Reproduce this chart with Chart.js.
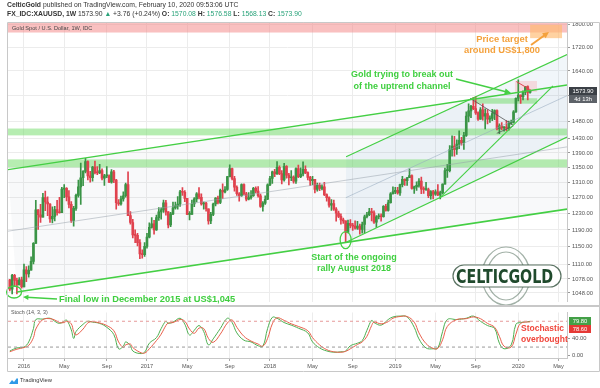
<!DOCTYPE html>
<html>
<head>
<meta charset="utf-8">
<script src="https://cdn.jsdelivr.net/npm/chart.js@4.4.1/dist/chart.umd.min.js"></script>
<style>
  html, body { margin: 0; padding: 0; background: #fff; }
  #wrap { position: relative; width: 600px; height: 388px; overflow: hidden;
          font-family: "Liberation Sans", Arial, sans-serif; color: #333; }
  #wrap canvas { position: absolute; left: 0; }
  .txt { position: absolute; white-space: nowrap; line-height: 1; }
  .ann { position: absolute; white-space: nowrap; font-weight: bold; }
  .v { color: #2aa37a; }
</style>
</head>
<body>
<div id="wrap">
  <canvas id="priceChart" width="600" height="307" style="top:0"></canvas>
  <canvas id="stochChart" width="600" height="81" style="top:307px"></canvas>

  <div class="txt" style="left:7px;top:2px;font-size:6.8px"><b>CelticGold</b> published on TradingView.com, February 10, 2020 09:53:06 UTC</div>
  <div class="txt" style="left:7px;top:11px;font-size:6.8px"><b>FX_IDC:XAUUSD, 1W</b> 1573.90 <span style="color:#2aa37a">&#9650;</span> +3.76 (+0.24%) <b>O:</b> <span class="v">1570.08</span> <b>H:</b> <span class="v">1576.58</span> <b>L:</b> <span class="v">1568.13</span> <b>C:</b> <span class="v">1573.90</span></div>
  <div class="txt" style="left:12px;top:26px;font-size:5.6px;color:#444">Gold Spot / U.S. Dollar, 1W, IDC</div>

  <div class="ann" style="left:502px;top:33px;font-size:9.4px;line-height:11px;color:#f4a13c;text-align:center;transform:translateX(-50%)">Price target<br>around US$1,800</div>
  <div class="ann" style="left:402px;top:68px;font-size:9px;line-height:12px;color:#3fcf3f;text-align:center;transform:translateX(-50%)">Gold trying to break out<br>of the uptrend channel</div>
  <div class="ann" style="left:354px;top:252px;font-size:9px;line-height:11px;color:#3fcf3f;text-align:center;transform:translateX(-50%)">Start of the ongoing<br>rally August 2018</div>
  <div class="ann" style="left:59px;top:294px;font-size:9.3px;line-height:10px;color:#3fcf3f">Final low in December 2015 at US$1,045</div>
  <div class="ann" style="left:521px;top:323px;font-size:8.5px;line-height:10.5px;color:#f0463c">Stochastic<br>overbought</div>
  <div class="txt" style="left:11px;top:310px;font-size:5.4px;color:#555">Stoch (14, 3, 3)</div>

  <div class="txt" style="left:456px;top:267px;font-size:19px;font-weight:bold;color:#1f4a2c;font-family:'DejaVu Sans',sans-serif;transform:scaleX(0.75);transform-origin:left top">CELTICGOLD</div>

  <svg style="position:absolute;left:8px;top:377px" width="11" height="8" viewBox="0 0 11 8">
    <path d="M1 7 L4 3 L6 5 L9 1 L10 2 L10 7 Z" fill="#2e9ae8"/>
  </svg>
  <div class="txt" style="left:20px;top:378px;font-size:5.8px;color:#333">TradingView</div>
</div>

<script>
// ---- weekly candles, first bar = week of 23 Nov 2015, last bar = week of 10 Feb 2020
var closes = [
  1056, 1086, 1075, 1065, 1076, 1061,
  // 2016
  1098, 1089, 1097, 1117, 1158, 1239, 1227, 1221, 1270, 1259, 1254, 1217, 1223, 1240, 1233, 1232,
  1292, 1294, 1272, 1253, 1213, 1243, 1276, 1298, 1322, 1339, 1366, 1327, 1322, 1351, 1336, 1335,
  1341, 1321, 1327, 1327, 1310, 1338, 1316, 1257, 1254, 1267, 1275, 1304, 1225, 1208, 1178, 1177,
  1160, 1134, 1132, 1151,
  // 2017
  1173, 1196, 1205, 1190, 1220, 1234, 1239, 1257, 1234, 1202, 1229, 1244, 1249, 1254, 1285, 1284,
  1268, 1228, 1228, 1254, 1267, 1280, 1271, 1254, 1256, 1242, 1212, 1228, 1254, 1269, 1258, 1289,
  1285, 1291, 1325, 1347, 1320, 1297, 1280, 1275, 1304, 1280, 1266, 1270, 1275, 1294, 1287, 1275,
  1248, 1256, 1266, 1303,
  // 2018
  1320, 1338, 1332, 1350, 1333, 1316, 1353, 1329, 1322, 1324, 1313, 1347, 1325, 1332, 1345, 1336,
  1323, 1314, 1318, 1291, 1302, 1294, 1298, 1278, 1270, 1251, 1255, 1241, 1231, 1223, 1214, 1212,
  1184, 1206, 1201, 1199, 1194, 1199, 1191, 1203, 1222, 1227, 1235, 1232, 1209, 1222, 1223, 1222,
  1248, 1238, 1257, 1280, 1285,
  // 2019
  1289, 1282, 1304, 1318, 1314, 1322, 1328, 1294, 1298, 1302, 1313, 1292, 1291, 1291, 1275, 1286,
  1279, 1285, 1277, 1283, 1305, 1341, 1341, 1399, 1409, 1400, 1415, 1426, 1419, 1440, 1497, 1513,
  1527, 1520, 1507, 1488, 1516, 1497, 1505, 1488, 1490, 1505, 1514, 1459, 1468, 1462, 1464, 1460,
  1476, 1478, 1510, 1552,
  // 2020
  1562, 1557, 1571, 1589, 1570, 1573.90
];
var highs = [
  1077, 1088, 1088, 1080, 1081, 1082,
  1111, 1105, 1107, 1127, 1160, 1263, 1240, 1253, 1281, 1287, 1272, 1255, 1247, 1248, 1263, 1271,
  1297, 1304, 1296, 1288, 1260, 1248, 1279, 1316, 1362, 1341, 1375, 1368, 1339, 1353, 1367, 1352,
  1358, 1346, 1331, 1352, 1330, 1344, 1342, 1318, 1265, 1274, 1285, 1308, 1338, 1235, 1216, 1190,
  1182, 1167, 1143, 1160,
  1182, 1207, 1220, 1213, 1226, 1245, 1244, 1264, 1263, 1235, 1233, 1259, 1259, 1273, 1289, 1296,
  1288, 1268, 1235, 1264, 1270, 1283, 1296, 1280, 1259, 1258, 1242, 1233, 1256, 1270, 1274, 1292,
  1306, 1299, 1326, 1357, 1348, 1326, 1301, 1283, 1306, 1306, 1284, 1283, 1288, 1297, 1298, 1299,
  1279, 1260, 1275, 1306,
  1326, 1340, 1345, 1366, 1354, 1341, 1361, 1355, 1334, 1341, 1327, 1349, 1356, 1349, 1365, 1354,
  1338, 1326, 1326, 1318, 1308, 1308, 1303, 1310, 1280, 1272, 1265, 1264, 1245, 1236, 1229, 1219,
  1212, 1214, 1215, 1206, 1212, 1211, 1204, 1209, 1226, 1233, 1243, 1243, 1237, 1225, 1229, 1229,
  1250, 1253, 1264, 1283, 1298,
  1297, 1297, 1305, 1326, 1319, 1323, 1346, 1330, 1300, 1311, 1320, 1324, 1298, 1310, 1295, 1288,
  1289, 1290, 1304, 1287, 1306, 1348, 1358, 1411, 1439, 1437, 1427, 1453, 1434, 1449, 1510, 1535,
  1530, 1555, 1557, 1510, 1523, 1535, 1519, 1517, 1498, 1518, 1516, 1516, 1474, 1478, 1466, 1484,
  1482, 1485, 1514, 1553,
  1611, 1563, 1575, 1590, 1591, 1576.58
];
var lows = [
  1052, 1046, 1062, 1046, 1065, 1058,
  1061, 1072, 1082, 1097, 1111, 1158, 1191, 1208, 1221, 1237, 1225, 1208, 1207, 1212, 1226, 1231,
  1232, 1270, 1262, 1244, 1208, 1199, 1238, 1271, 1253, 1301, 1335, 1316, 1310, 1313, 1332, 1330,
  1333, 1316, 1302, 1322, 1309, 1308, 1309, 1241, 1250, 1251, 1261, 1271, 1225, 1204, 1171, 1160,
  1152, 1123, 1124, 1128,
  1147, 1171, 1194, 1180, 1189, 1213, 1216, 1233, 1226, 1195, 1198, 1227, 1241, 1241, 1248, 1276,
  1260, 1227, 1214, 1228, 1247, 1259, 1267, 1251, 1241, 1236, 1204, 1205, 1225, 1249, 1254, 1255,
  1268, 1282, 1289, 1324, 1316, 1287, 1276, 1261, 1273, 1277, 1262, 1264, 1266, 1273, 1282, 1271,
  1245, 1236, 1253, 1265,
  1301, 1307, 1325, 1331, 1330, 1306, 1313, 1321, 1303, 1314, 1308, 1307, 1322, 1322, 1327, 1333,
  1316, 1302, 1304, 1282, 1287, 1288, 1290, 1275, 1261, 1246, 1238, 1238, 1211, 1220, 1204, 1206,
  1160, 1183, 1195, 1189, 1192, 1191, 1180, 1182, 1183, 1219, 1225, 1212, 1206, 1196, 1217, 1211,
  1221, 1236, 1236, 1256, 1279,
  1280, 1279, 1276, 1298, 1302, 1302, 1322, 1292, 1281, 1289, 1297, 1280, 1281, 1289, 1270, 1266,
  1267, 1276, 1275, 1267, 1280, 1305, 1323, 1338, 1381, 1381, 1386, 1402, 1412, 1400, 1437, 1480,
  1492, 1517, 1502, 1484, 1487, 1485, 1459, 1474, 1478, 1483, 1486, 1456, 1445, 1457, 1452, 1454,
  1455, 1472, 1476, 1508,
  1544, 1536, 1547, 1563, 1547, 1568.13
];
var firstOpen = 1076;   // each later bar opens at the previous close

var stochWeeks = [
  0, 3, 6, 8, 10, 11, 14, 17, 19, 21,
  23, 24, 26, 27, 28, 31, 33, 35, 38, 41,
  44, 46, 48, 49, 51, 52, 55, 57, 59, 62,
  64, 66, 67, 69, 72, 74, 76, 78, 80, 82,
  84, 86, 89, 92, 94, 96, 99, 102, 105, 107,
  109, 111, 113, 116, 119, 122, 126, 128, 131, 134,
  137, 140, 142, 144, 147, 149, 151, 153, 154, 157,
  160, 162, 165, 168, 171, 173, 176, 179, 181, 183,
  185, 189, 193, 196, 199, 202, 205, 207, 209, 212,
  214, 216, 220
];
var stochK = [
  11, 18, 20, 32, 63, 84, 85, 87, 80, 75,
  80, 83, 60, 40, 56, 73, 80, 78, 75, 66,
  49, 16, 22, 32, 23, 11, 5, 8, 29, 42,
  63, 80, 75, 78, 87, 73, 48, 59, 70, 56,
  25, 39, 63, 87, 77, 53, 36, 32, 23, 22,
  63, 89, 87, 77, 71, 64, 53, 32, 18, 11,
  8, 9, 11, 23, 29, 35, 59, 82, 77, 71,
  84, 90, 92, 90, 66, 39, 18, 16, 18, 56,
  84, 84, 87, 92, 80, 70, 63, 29, 16, 25,
  73, 77, 79.8
];
var stochD = [
  9, 15, 19, 24, 42, 62, 84, 86, 83, 77,
  77, 80, 74, 56, 48, 62, 76, 79, 76, 70,
  58, 32, 19, 25, 27, 19, 8, 6, 16, 35,
  50, 70, 76, 77, 84, 80, 62, 52, 64, 63,
  40, 31, 50, 76, 83, 66, 45, 34, 27, 22,
  40, 74, 88, 82, 74, 68, 58, 42, 25, 14,
  9, 8, 10, 16, 26, 32, 45, 70, 78, 74,
  79, 87, 91, 91, 78, 53, 28, 17, 17, 37,
  68, 84, 86, 90, 86, 75, 66, 45, 22, 20,
  50, 75, 78.6
];
var stochUpper = 80, stochLower = 20;

// ---- axes
var weekMin = -0.76, weekMax = 235.6;
var priceMin = 1030, priceMax = 1810;
var tickWeeks  = [6, 23, 41, 58, 75, 93, 110, 128, 145, 163, 180, 197, 215, 232];
var tickLabels = ['2016', 'May', 'Sep', '2017', 'May', 'Sep', '2018', 'May', 'Sep', '2019', 'May', 'Sep', '2020', 'May'];
var priceTicks = [1048, 1078, 1110, 1150, 1190, 1230, 1270, 1310, 1350, 1390, 1430, 1480, 1560, 1640, 1720, 1800];
var stochTicks = [0, 40];

// ---- drawings: trend lines as [week, price] pairs
var upperChannel = [[-0.76, 1344], [235.6, 1594]];
var lowerChannel = [[3, 1050], [235.6, 1241]];
var midChannel   = [[-0.76, 1187], [235.6, 1407]];
var rallyLow     = [[142, 1160], [235.6, 1435]];
var rallyHigh    = [[142.2, 1379], [235.6, 1695]];
var rallyMid     = [[142.1, 1270], [235.6, 1560]];
var rallySupport = [[182, 1271], [229.7, 1591]];
var wedgeTop     = [[194.6, 1552], [212.9, 1470]];
var wedgeBottom  = [[205.9, 1446], [212.9, 1467]];
var janTop       = [[214.2, 1605], [220.7, 1576]];

// ---- zones: [fromWeek, toWeek, lowPrice, highPrice]
var zoneResist = [-0.76, 235.6, 1772, 1810];
var zoneTarget = [220, 233.5, 1752, 1800];
var zoneGreen1 = [-0.76, 235.6, 1440, 1460];
var zoneGreen2 = [-0.76, 235.6, 1350, 1372];
var zoneGreen3 = [196, 223, 1535, 1552];
var zoneJan    = [213.6, 222.9, 1572, 1607];

var lastPrice = 1573.90;
var lastK = 79.80, lastD = 78.60;

// ---------------------------------------------------------------
var UP = '#3a9446', DOWN = '#e0424e';
var GREEN = '#44cf44';
Chart.defaults.font.family = '"Liberation Sans", Arial, sans-serif';

var opens = closes.map(function (c, i) { return i === 0 ? firstOpen : closes[i - 1]; });
var candleColor = closes.map(function (c, i) { return c >= opens[i] ? UP : DOWN; });

function seg(pts, color, width) {
    return {
        type: 'line',
        data: pts.map(function (p) { return { x: p[0], y: p[1] }; }),
        borderColor: color, borderWidth: width,
        pointRadius: 0, fill: false, tension: 0, order: 0
    };
}

function arrow(ctx, x1, y1, x2, y2, color, w, head) {
    var a = Math.atan2(y2 - y1, x2 - x1);
    ctx.strokeStyle = color; ctx.fillStyle = color; ctx.lineWidth = w;
    ctx.beginPath(); ctx.moveTo(x1, y1);
    ctx.lineTo(x2 - Math.cos(a) * head * 0.6, y2 - Math.sin(a) * head * 0.6); ctx.stroke();
    ctx.beginPath(); ctx.moveTo(x2, y2);
    ctx.lineTo(x2 - head * Math.cos(a - 0.45), y2 - head * Math.sin(a - 0.45));
    ctx.lineTo(x2 - head * Math.cos(a + 0.45), y2 - head * Math.sin(a + 0.45));
    ctx.closePath(); ctx.fill();
}

function fillZone(ctx, xs, ys, z, color) {
    var x1 = xs.getPixelForValue(z[0]), x2 = xs.getPixelForValue(z[1]);
    var y1 = ys.getPixelForValue(z[3]), y2 = ys.getPixelForValue(z[2]);
    ctx.fillStyle = color;
    ctx.fillRect(x1, y1, x2 - x1, y2 - y1);
}

function fillBetween(ctx, xs, ys, top, bottom, color) {
    ctx.fillStyle = color;
    ctx.beginPath();
    ctx.moveTo(xs.getPixelForValue(top[0][0]), ys.getPixelForValue(top[0][1]));
    ctx.lineTo(xs.getPixelForValue(top[1][0]), ys.getPixelForValue(top[1][1]));
    ctx.lineTo(xs.getPixelForValue(bottom[1][0]), ys.getPixelForValue(bottom[1][1]));
    ctx.lineTo(xs.getPixelForValue(bottom[0][0]), ys.getPixelForValue(bottom[0][1]));
    ctx.closePath(); ctx.fill();
}

var priceDecor = {
    id: 'priceDecor',
    beforeDatasetsDraw: function (chart) {
        var ctx = chart.ctx, a = chart.chartArea, xs = chart.scales.x, ys = chart.scales.y;
        ctx.save();
        ctx.beginPath(); ctx.rect(a.left, a.top, a.right - a.left, a.bottom - a.top); ctx.clip();
        fillBetween(ctx, xs, ys, upperChannel, lowerChannel, 'rgba(110,130,150,0.05)');
        fillBetween(ctx, xs, ys, rallyHigh, rallyLow, 'rgba(120,170,210,0.10)');
        fillZone(ctx, xs, ys, zoneResist, 'rgba(244,140,140,0.55)');
        fillZone(ctx, xs, ys, zoneTarget, 'rgba(255,186,110,0.65)');
        fillZone(ctx, xs, ys, zoneGreen1, 'rgba(110,220,100,0.5)');
        fillZone(ctx, xs, ys, zoneGreen2, 'rgba(110,220,100,0.5)');
        fillZone(ctx, xs, ys, zoneGreen3, 'rgba(110,220,100,0.5)');
        fillZone(ctx, xs, ys, zoneJan, 'rgba(250,160,170,0.35)');
        ctx.restore();
    },
    afterDatasetsDraw: function (chart) {
        var ctx = chart.ctx, xs = chart.scales.x, ys = chart.scales.y;
        ctx.save();
        // circles round the two lows
        ctx.strokeStyle = GREEN; ctx.lineWidth = 1.3;
        ctx.beginPath();
        ctx.ellipse(xs.getPixelForValue(1.8), ys.getPixelForValue(1050), 7.5, 6, 0, 0, Math.PI * 2);
        ctx.stroke();
        ctx.beginPath();
        ctx.ellipse(xs.getPixelForValue(142), ys.getPixelForValue(1166), 5.5, 8.5, 0, 0, Math.PI * 2);
        ctx.stroke();
        // arrows from the notes
        arrow(ctx, 57, 299, 23, 297, GREEN, 1.6, 6);
        arrow(ctx, 456, 79, 511, 93, GREEN, 1.6, 7);
        arrow(ctx, 531, 45, 549, 32, '#f4a13c', 2, 7);
        // logo frame
        ctx.strokeStyle = 'rgba(70,100,80,0.5)'; ctx.lineWidth = 1.2;
        ctx.beginPath(); ctx.ellipse(506, 276, 24, 29, 0, 0, Math.PI * 2); ctx.stroke();
        ctx.beginPath(); ctx.ellipse(506, 276, 19, 24, 0, 0, Math.PI * 2); ctx.stroke();
        ctx.fillStyle = '#ffffff';
        ctx.beginPath();
        ctx.roundRect(453, 265, 108, 22, 11); ctx.fill();
        ctx.strokeStyle = 'rgba(50,80,60,0.8)'; ctx.stroke();
        ctx.restore();
    },
    afterDraw: function (chart) {
        var ctx = chart.ctx, ys = chart.scales.y, a = chart.chartArea;
        ctx.save();
        ctx.strokeStyle = '#c8c8c8'; ctx.lineWidth = 1;
        ctx.beginPath();
        ctx.moveTo(7.5, 22.5); ctx.lineTo(599.5, 22.5);
        ctx.moveTo(7.5, 22.5); ctx.lineTo(7.5, 307);
        ctx.moveTo(599.5, 22.5); ctx.lineTo(599.5, 307);
        ctx.stroke();
        ctx.lineWidth = 2;
        ctx.beginPath(); ctx.moveTo(7, 306); ctx.lineTo(600, 306); ctx.stroke();
        // last price tags
        var yp = Math.round(ys.getPixelForValue(lastPrice));
        ctx.fillStyle = '#3b4046'; ctx.fillRect(a.right + 2, yp - 4, 28, 8);
        ctx.fillStyle = '#5d6268'; ctx.fillRect(a.right + 2, yp + 4, 28, 8);
        ctx.fillStyle = '#fff'; ctx.font = '5.8px "Liberation Sans", Arial';
        ctx.textAlign = 'center'; ctx.textBaseline = 'middle';
        ctx.fillText(lastPrice.toFixed(2), a.right + 16, yp);
        ctx.fillText('4d 13h', a.right + 16, yp + 8);
        ctx.restore();
    }
};

var stochDecor = {
    id: 'stochDecor',
    afterDraw: function (chart) {
        var ctx = chart.ctx, ys = chart.scales.y, a = chart.chartArea;
        ctx.save();
        ctx.strokeStyle = '#c8c8c8'; ctx.lineWidth = 1;
        ctx.beginPath();
        ctx.moveTo(7.5, 0); ctx.lineTo(7.5, 64.5);
        ctx.moveTo(599.5, 0); ctx.lineTo(599.5, 64.5);
        ctx.moveTo(7.5, 64.5); ctx.lineTo(599.5, 64.5);
        ctx.stroke();
        var yk = Math.round(ys.getPixelForValue(lastK));
        ctx.fillStyle = '#43a047'; ctx.fillRect(a.right + 2, yk - 4, 22, 8);
        ctx.fillStyle = '#e53935'; ctx.fillRect(a.right + 2, yk + 4, 22, 8);
        ctx.fillStyle = '#fff'; ctx.font = '5.8px "Liberation Sans", Arial';
        ctx.textAlign = 'center'; ctx.textBaseline = 'middle';
        ctx.fillText(lastK.toFixed(2), a.right + 13, yk);
        ctx.fillText(lastD.toFixed(2), a.right + 13, yk + 8);
        ctx.restore();
    }
};

var wickData = closes.map(function (c, i) { return { x: i, y: [lows[i], highs[i]] }; });
var bodyData = closes.map(function (c, i) {
    return { x: i, y: [Math.min(opens[i], c), Math.max(opens[i], c)] };
});

var xCommon = {
    type: 'linear', min: weekMin, max: weekMax, offset: false,
    afterBuildTicks: function (s) { s.ticks = tickWeeks.map(function (v) { return { value: v }; }); }
};

new Chart(document.getElementById('priceChart'), {
    type: 'bar',
    data: {
        datasets: [
            seg(upperChannel, GREEN, 1.4),
            seg(lowerChannel, GREEN, 1.6),
            seg(midChannel, 'rgba(150,160,170,0.5)', 1),
            seg(rallyLow, GREEN, 1.1),
            seg(rallyHigh, GREEN, 1.1),
            seg(rallyMid, 'rgba(150,170,190,0.55)', 1),
            seg(rallySupport, GREEN, 1.1),
            seg(wedgeTop, '#555', 0.8),
            seg(wedgeBottom, '#555', 0.8),
            seg(janTop, '#e0424e', 1),
            {
                type: 'bar', data: wickData, backgroundColor: candleColor,
                barThickness: 1, grouped: false, order: 3
            },
            {
                type: 'bar', data: bodyData, backgroundColor: candleColor,
                barThickness: 2, grouped: false, minBarLength: 1, order: 2
            }
        ]
    },
    options: {
        responsive: false, animation: false,
        layout: { padding: { left: 8, top: 22, right: 0, bottom: 1 } },
        plugins: { legend: { display: false }, tooltip: { enabled: false } },
        scales: {
            x: Object.assign({}, xCommon, {
                ticks: { display: false },
                grid: { color: '#ececec', offset: false, drawTicks: false },
                border: { display: false },
                afterFit: function (s) { s.height = 0; }
            }),
            y: {
                type: 'logarithmic', position: 'right', min: priceMin, max: priceMax,
                afterBuildTicks: function (s) { s.ticks = priceTicks.map(function (v) { return { value: v }; }); },
                afterFit: function (s) { s.width = 33; },
                ticks: {
                    callback: function (v) { return Number(v).toFixed(2); },
                    font: { size: 5.8 }, color: '#555', padding: 2
                },
                grid: { color: '#ececec', tickLength: 3, tickColor: '#999' },
                border: { color: '#c8c8c8' }
            }
        }
    },
    plugins: [priceDecor]
});

new Chart(document.getElementById('stochChart'), {
    type: 'line',
    data: {
        datasets: [
            {
                data: [{ x: weekMin, y: stochUpper }, { x: weekMax, y: stochUpper }],
                borderColor: '#e79a9a', borderWidth: 1, borderDash: [3, 3], pointRadius: 0
            },
            {
                data: [{ x: weekMin, y: stochLower }, { x: weekMax, y: stochLower }],
                borderColor: '#9a9a9a', borderWidth: 1, borderDash: [3, 3], pointRadius: 0
            },
            {
                data: stochWeeks.map(function (w, i) { return { x: w, y: stochD[i] }; }),
                borderColor: '#e8604c', borderWidth: 1, pointRadius: 0, tension: 0.4
            },
            {
                data: stochWeeks.map(function (w, i) { return { x: w, y: stochK[i] }; }),
                borderColor: '#4caf50', borderWidth: 1, pointRadius: 0, tension: 0.4
            }
        ]
    },
    options: {
        responsive: false, animation: false,
        layout: { padding: { left: 8, top: 0, right: 0, bottom: 16 } },
        plugins: { legend: { display: false }, tooltip: { enabled: false } },
        scales: {
            x: Object.assign({}, xCommon, {
                ticks: {
                    autoSkip: false, maxRotation: 0, font: { size: 5.6 }, color: '#555', padding: 2,
                    callback: function (v, i) { return tickLabels[i]; }
                },
                grid: { color: '#ececec', offset: false, tickLength: 3, tickColor: '#aaa' },
                border: { color: '#c8c8c8' },
                afterFit: function (s) { s.height = 14; }
            }),
            y: {
                type: 'linear', position: 'right', min: -5.4, max: 100.4,
                afterBuildTicks: function (s) { s.ticks = stochTicks.map(function (v) { return { value: v }; }); },
                afterFit: function (s) { s.width = 33; },
                ticks: {
                    callback: function (v) { return Number(v).toFixed(2); },
                    font: { size: 5.8 }, color: '#555', padding: 2
                },
                grid: { drawOnChartArea: false, tickLength: 3, tickColor: '#999' },
                border: { color: '#c8c8c8' }
            }
        }
    },
    plugins: [stochDecor]
});
</script>
</body>
</html>
